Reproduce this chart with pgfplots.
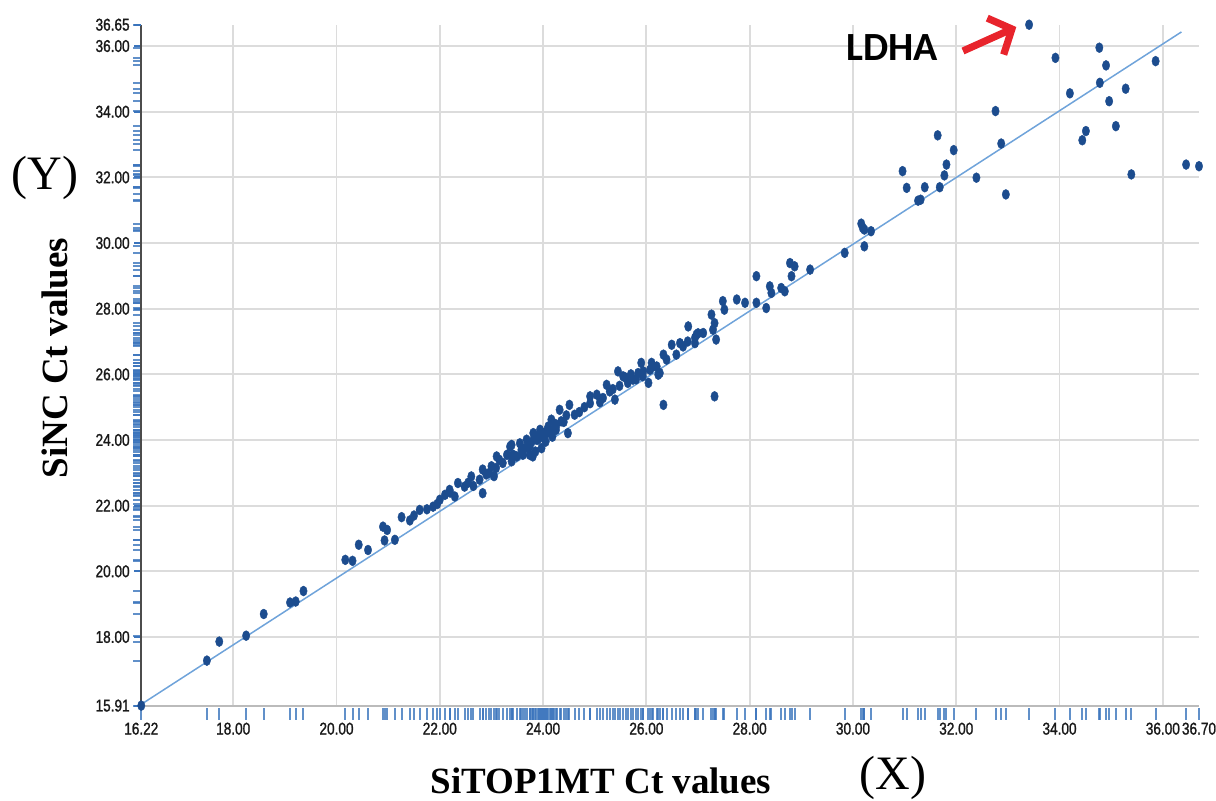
\documentclass[border=0pt]{standalone}
\usepackage{fontspec}
\setmainfont{Liberation Serif}
\newfontfamily\ticknarrow[FakeStretch=0.8, FakeBold=1.3]{Liberation Sans}
\newfontfamily\calibri{Carlito}
\usepackage{pgfplots}
\pgfplotsset{compat=1.18}
\usepackage{pgfplotstable}
\usetikzlibrary{arrows.meta}

\definecolor{dotblue}{HTML}{1C4C8E}
\definecolor{rugblue}{HTML}{3A74BC}
\definecolor{lineblue}{HTML}{6FA3DA}
\definecolor{gridgray}{HTML}{DCDCDC}
\definecolor{arrowred}{HTML}{E8242C}

\pgfdeclareplotmark{rugx}{\pgfpathmoveto{\pgfqpoint{0pt}{-1.2pt}}\pgfpathlineto{\pgfqpoint{0pt}{-7.2pt}}\pgfusepath{stroke}}
\pgfdeclareplotmark{rugy}{\pgfpathmoveto{\pgfqpoint{-4pt}{0pt}}\pgfpathlineto{\pgfqpoint{-0.6pt}{0pt}}\pgfusepath{stroke}}

\pgfplotstableread{
x y
16.22 15.91
17.49 17.28
17.73 17.86
18.25 18.04
18.59 18.70
19.10 19.05
19.21 19.08
19.36 19.40
20.17 20.35
20.31 20.32
20.43 20.81
20.61 20.65
20.93 20.94
21.13 20.96
20.90 21.36
20.98 21.26
21.26 21.65
21.42 21.55
21.50 21.70
21.61 21.87
21.75 21.89
21.87 21.97
21.95 22.05
22.00 22.18
22.10 22.33
22.19 22.48
22.20 22.40
22.29 22.28
22.35 22.69
22.48 22.58
22.55 22.70
22.61 22.89
22.65 22.60
22.77 22.79
22.83 22.38
22.83 23.10
22.90 22.95
22.96 23.00
23.00 23.20
23.05 22.90
23.09 23.15
23.10 23.50
23.15 23.40
23.22 23.30
23.30 23.55
23.36 23.80
23.39 23.35
23.39 23.85
23.42 23.55
23.49 23.50
23.55 23.90
23.58 23.70
23.61 23.55
23.65 23.75
23.68 24.01
23.74 23.80
23.74 23.55
23.78 23.95
23.80 23.50
23.81 24.21
23.85 23.65
23.87 24.01
23.90 24.01
23.92 24.15
23.94 24.31
23.96 24.25
23.97 23.75
24.00 24.11
24.02 24.05
24.03 24.16
24.05 23.95
24.08 24.30
24.10 24.41
24.13 24.21
24.16 24.62
24.18 24.10
24.19 24.31
24.22 24.50
24.25 24.31
24.26 24.46
24.32 24.92
24.35 24.57
24.40 24.55
24.45 24.75
24.48 24.21
24.51 25.07
24.61 24.77
24.70 24.85
24.80 25.00
24.91 25.12
24.91 25.33
25.04 25.38
25.10 25.15
25.16 25.28
25.23 25.68
25.29 25.48
25.35 25.55
25.39 25.23
25.45 26.09
25.48 25.65
25.55 25.94
25.60 25.90
25.64 25.74
25.70 26.00
25.74 25.84
25.80 25.85
25.84 26.04
25.90 26.35
25.93 25.94
25.94 26.09
26.04 25.74
26.07 26.14
26.10 26.35
26.13 26.24
26.20 26.24
26.23 25.99
26.26 26.04
26.33 26.60
26.33 25.07
26.39 26.45
26.49 26.90
26.58 26.60
26.65 26.95
26.71 26.85
26.80 27.00
26.81 27.46
26.94 26.95
26.94 27.11
26.97 27.21
27.00 27.25
27.10 27.26
27.26 27.82
27.29 27.36
27.32 27.56
27.32 25.33
27.35 27.06
27.48 28.23
27.51 27.97
27.75 28.28
27.91 28.18
28.13 28.99
28.13 28.18
28.32 28.02
28.39 28.68
28.42 28.48
28.61 28.63
28.68 28.53
28.78 29.39
28.81 28.99
28.87 29.29
29.17 29.19
29.84 29.70
30.16 30.59
30.19 30.46
30.22 29.90
30.22 30.41
30.35 30.36
30.96 32.19
31.04 31.68
31.26 31.29
31.31 31.32
31.39 31.70
31.64 33.28
31.68 31.70
31.77 32.06
31.81 32.39
31.95 32.83
32.39 31.99
32.76 34.02
32.87 33.03
32.96 31.48
33.41 36.65
33.92 35.64
34.20 34.56
34.44 33.13
34.51 33.41
34.77 35.95
34.78 34.88
34.90 35.41
34.96 34.32
35.09 33.56
35.28 34.70
35.39 32.09
35.86 35.54
36.45 32.39
36.70 32.34
}\ctdata

\begin{document}
\begin{tikzpicture}
\begin{axis}[
  scale only axis,
  width=528.85pt, height=340.45pt,
  xmin=16.22, xmax=36.70, ymin=15.91, ymax=36.65,
  clip=false,
  axis x line=bottom, axis y line=left,
  x axis line style={-, draw=gridgray!85!black, line width=0.9pt},
  y axis line style={-, draw=black!70, line width=1pt},
  xtick={18,20,...,36}, ytick={18,20,...,36},
  extra x ticks={16.22,36.70}, extra y ticks={15.91,36.65},
  extra x tick style={grid=none},
  extra y tick style={grid=none},
  grid=major,
  major grid style={draw=gridgray, line width=0.9pt},
  tick align=outside,
  major tick length=3.5pt,
  xtick style={draw=none},
  ytick style={draw=rugblue, line width=1pt},
  ticklabel style={font=\ticknarrow\fontsize{8.5}{9}\selectfont, text=black!90},
  xticklabel style={yshift=-1.5pt},
  yticklabel style={xshift=1.2pt},
  /pgf/number format/fixed,
  /pgf/number format/fixed zerofill,
  /pgf/number format/precision=2,
  /pgf/number format/assume math mode=true,
]
% rug along x
\addplot[only marks, mark=rugx, draw=rugblue, draw opacity=0.8, line width=1pt]
  table[x=x, y expr=15.91] {\ctdata};
% rug along y
\addplot[only marks, mark=rugy, draw=rugblue, draw opacity=0.8, line width=1pt]
  table[x expr=16.22, y=y] {\ctdata};
% regression line
\addplot[lineblue, line width=0.75pt] coordinates {(16.22,15.95) (36.36,36.43)};
% points
\addplot[only marks, mark=*, mark size=2.5pt,
  mark options={xscale=0.74, fill=dotblue, draw=dotblue, line width=0.2pt}]
  table[x=x, y=y] {\ctdata};
\end{axis}
\pgfresetboundingbox
\begin{scope}[shift={(current axis.south west)}]
\path[use as bounding box] (-70.65pt,-47.2pt) rectangle (537.35pt,352.8pt);
\node[font=\bfseries\fontsize{18.5}{20}\selectfont, rotate=90] at (-43.15pt,173.8pt) {SiNC Ct values};
\node[font=\fontsize{24}{26}\selectfont] at (-48.15pt,263.8pt) {(Y)};
\node[font=\bfseries\fontsize{18.5}{20}\selectfont] at (229.85pt,-37.7pt) {SiTOP1MT Ct values};
\node[font=\fontsize{24}{26}\selectfont] at (375.85pt,-36.2pt) {(X)};
\node[font=\calibri\bfseries\fontsize{20}{22}\selectfont] at (375.35pt,328.8pt) {LDHA};
\draw[arrowred, line width=3.6pt, -{Straight Barb[length=9pt,width=20pt,line width=3.6pt]}] (410.85pt,327.3pt) -- (437.5pt,339.3pt);
\end{scope}
\end{tikzpicture}
\end{document}
